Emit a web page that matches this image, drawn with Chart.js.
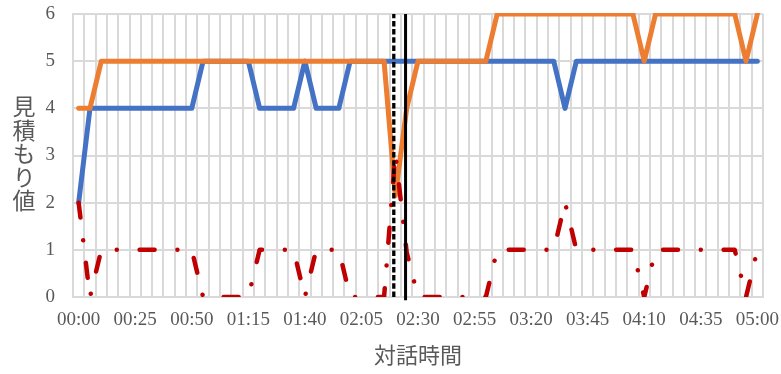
<!DOCTYPE html>
<html>
<head>
<meta charset="utf-8">
<script src="https://cdn.jsdelivr.net/npm/chart.js@4"></script>
<style>
  body { margin: 0; background: #fff; }
  #wrap { position: relative; width: 781px; height: 374px; }
  #ytitle {
    position: absolute; left: 12px; top: 95px;
    writing-mode: vertical-rl; text-orientation: upright;
    font-family: "Noto Sans CJK JP", sans-serif; font-size: 23px;
    line-height: 24px; letter-spacing: 0.5px; color: #595959;
  }
</style>
</head>
<body>
<div id="wrap">
  <canvas id="chart"></canvas>
  <div id="ytitle">見積もり値</div>
</div>
<script>
// 5秒ごとの時間 (00:00 - 05:00)
const tiempos = [];
for (let s = 0; s <= 300; s += 5) {
  tiempos.push(String(Math.floor(s / 60)).padStart(2, "0") + ":" + String(s % 60).padStart(2, "0"));
}
const etiquetasX = ["00:00","00:25","00:50","01:15","01:40","02:05","02:30","02:55","03:20","03:45","04:10","04:35","05:00"];

const serieAzul = [2,4,4,4,4,4,4,4,4,4,4,5,5,5,5,5,4,4,4,4,5,4,4,4,5,5,5,5,5,5,
  5,5,5,5,5,5,5,5,5,5,5,5,5,4,5,5,5,5,5,5,5,5,5,5,5,5,5,5,5,5,5];
const serieNaranja = [4,4,5,5,5,5,5,5,5,5,5,5,5,5,5,5,5,5,5,5,5,5,5,5,5,5,5,5,2.15,4,
  5,5,5,5,5,5,5,6,6,6,6,6,6,6,6,6,6,6,6,6,5,6,6,6,6,6,6,6,6,5,6];
const serieRoja = [2,0,1,1,1,1,1,1,1,1,1,0,0,0,0,0,1,1,1,1,0,1,1,1,0,0,0,0,3.05,0.95,
  0,0,0,0,0,0,0,1,1,1,1,1,1,2,1,1,1,1,1,1,0,1,1,1,1,1,1,1,1,0,1];
// líneas verticales (segundos)
const marcaPunteada = 139.3;
const marcaSolida = 144.5;

const gris = "#d9d9d9";
const texto = "#595959";

new Chart(document.getElementById("chart"), {
  type: "line",
  data: {
    labels: tiempos,
    datasets: [
      { data: serieAzul, borderColor: "#4472c4", borderWidth: 5, pointRadius: 0,
        borderJoinStyle: "round", borderCapStyle: "round", order: 4 },
      { data: serieNaranja, borderColor: "#ed7d31", borderWidth: 5, pointRadius: 0,
        borderJoinStyle: "round", borderCapStyle: "round", order: 3,
        clip: { left: 3, right: 3, top: 1, bottom: 3 } },
      { data: serieRoja, borderColor: "#c00000", borderWidth: 4.5, pointRadius: 0,
        borderJoinStyle: "round", borderCapStyle: "round",
        borderDash: [15, 22.8, 0.01, 22.8], order: 2 },
      { data: [{ x: marcaPunteada, y: 0 }, { x: marcaPunteada, y: 6 }], xAxisID: "xm",
        borderColor: "#000", borderWidth: 3.3, borderDash: [5.5, 2.7], pointRadius: 0, order: 1 },
      { data: [{ x: marcaSolida, y: -0.07 }, { x: marcaSolida, y: 6 }], xAxisID: "xm",
        borderColor: "#000", borderWidth: 3, pointRadius: 0, clip: false, order: 0 }
    ]
  },
  options: {
    responsive: true,
    maintainAspectRatio: false,
    animation: false,
    layout: { padding: { top: 14, right: 18, left: 0, bottom: 0 } },
    plugins: { legend: { display: false }, tooltip: { enabled: false } },
    scales: {
      x: {
        offset: true,
        grid: { offset: true, color: gris, lineWidth: 2, drawTicks: false },
        border: { color: gris, width: 2 },
        ticks: {
          autoSkip: false, maxRotation: 0, padding: 12, color: texto,
          font: { family: "Liberation Serif", size: 19 },
          callback: function (v, i) {
            const l = this.getLabelForValue(v);
            return etiquetasX.includes(l) ? l : "";
          }
        },
        title: { display: true, text: "対話時間", color: texto,
          font: { family: "Noto Sans CJK JP", size: 22 }, padding: { top: 4, bottom: 6 } },
        afterFit: (s) => { s.height = 77; s.paddingLeft = 0; s.paddingRight = 0; }
      },
      xm: { type: "linear", display: false, min: -2.5, max: 302.5 },
      y: {
        min: 0, max: 6,
        grid: { color: gris, lineWidth: 2, drawTicks: false },
        border: { color: gris, width: 2 },
        ticks: { stepSize: 1, padding: 18, color: texto, font: { family: "Liberation Serif", size: 19 } },
        afterFit: (s) => { s.width = 73; s.paddingTop = 0; s.paddingBottom = 0; }
      }
    }
  }
});
</script>
</body>
</html>
